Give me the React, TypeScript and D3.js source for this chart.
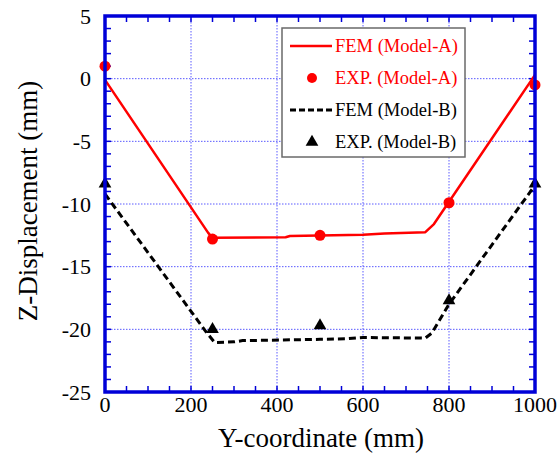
import React from 'react';
import * as d3 from 'd3';

// FEM curves (Y-coordinate mm, Z-displacement mm)
const femA_y = [0, 240, 250, 420, 430, 600, 650, 745, 765, 1000];
const femA_z = [-0.1, -12.3, -12.7, -12.65, -12.55, -12.45, -12.35, -12.25, -11.6, 0.3];

const femB_y = [0, 235, 255, 300, 320, 500, 560, 600, 745, 760, 800, 1000];
const femB_z = [-9.2, -20.2, -21.05, -21.0, -20.9, -20.8, -20.75, -20.65, -20.7, -20.3, -18.0, -8.5];

// experiments
const expA_y = [0, 250, 500, 800, 1000];
const expA_z = [1.0, -12.8, -12.5, -9.9, -0.5];

const expB_y = [0, 250, 500, 800, 1000];
const expB_z = [-8.4, -20.0, -19.7, -17.7, -8.4];

const xTicks = [0, 200, 400, 600, 800, 1000];
const yTicks = [5, 0, -5, -10, -15, -20, -25];

const legendLabels = ['FEM (Model-A)', 'EXP. (Model-A)', 'FEM (Model-B)', 'EXP. (Model-B)'];

const W = 559, H = 462;
const left = 105, right = 535, top = 16, bottom = 392;
const blue = '#0000d8';
const red = '#ff0000';
const font = '"Liberation Serif", "Times New Roman", serif';

const App = () => {
  const x = d3.scaleLinear().domain([0, 1000]).range([left, right]);
  const y = d3.scaleLinear().domain([-25, 5]).range([bottom, top]);

  const line = d3.line<[number, number]>().x(d => x(d[0])).y(d => y(d[1]));
  const lineA = line(femA_y.map((v, i) => [v, femA_z[i]]));
  const lineB = line(femB_y.map((v, i) => [v, femB_z[i]]));

  const tri = d3.symbol().type(d3.symbolTriangle).size(70)();

  const xMinor = d3.range(0, 1001, 50);
  const yMinor = d3.range(-25, 5.01, 1);

  const lgX = 282, lgY = 28, lgW = 183, lgH = 129;
  const rows = [46, 78, 110, 142];

  return (
    <svg width={W} height={H} style={{ position: 'absolute', left: 0, top: 0, background: '#fff' }}>
      {/* grid */}
      <g stroke="#5a5aff" strokeWidth={1} strokeDasharray="1.5,1.5">
        {xTicks.slice(1, -1).map(t => (
          <line key={'gx' + t} x1={x(t)} x2={x(t)} y1={top} y2={bottom} />
        ))}
        {yTicks.slice(1, -1).map(t => (
          <line key={'gy' + t} x1={left} x2={right} y1={y(t)} y2={y(t)} />
        ))}
      </g>

      {/* ticks inward on all sides */}
      <g stroke={blue} strokeWidth={1.5}>
        {xMinor.map(t => (
          <g key={'tx' + t}>
            <line x1={x(t)} x2={x(t)} y1={bottom} y2={bottom - 6} />
            <line x1={x(t)} x2={x(t)} y1={top} y2={top + 6} />
          </g>
        ))}
        {yMinor.map(t => (
          <g key={'ty' + t}>
            <line x1={left} x2={left + 6} y1={y(t)} y2={y(t)} />
            <line x1={right} x2={right - 6} y1={y(t)} y2={y(t)} />
          </g>
        ))}
      </g>

      {/* curves */}
      <path d={lineA || ''} fill="none" stroke={red} strokeWidth={2.5} strokeLinejoin="round" />
      <path d={lineB || ''} fill="none" stroke="#000" strokeWidth={3} strokeDasharray="7,4" />

      {expA_y.map((v, i) => (
        <circle key={'ea' + i} cx={x(v)} cy={y(expA_z[i])} r={5.5} fill={red} />
      ))}
      {expB_y.map((v, i) => (
        <path key={'eb' + i} d={tri || ''} transform={`translate(${x(v)},${y(expB_z[i])})`} fill="#000" />
      ))}

      {/* frame */}
      <rect x={left} y={top} width={right - left} height={bottom - top} fill="none" stroke={blue} strokeWidth={3.5} />

      {/* tick labels */}
      <g fontFamily={font} fontSize={22} fill="#000">
        {xTicks.map(t => (
          <text key={'lx' + t} x={x(t)} y={412} textAnchor="middle">{t}</text>
        ))}
        {yTicks.map(t => (
          <text key={'ly' + t} x={91} y={y(t) + 7.5} textAnchor="end">{t}</text>
        ))}
      </g>

      {/* axis titles */}
      <text x={(left + right) / 2 + 1} y={447} textAnchor="middle" fontFamily={font} fontSize={27}>Y-coordinate (mm)</text>
      <text transform="translate(37,201) rotate(-90)" textAnchor="middle" fontFamily={font} fontSize={27}>Z-Displacement (mm)</text>

      {/* legend */}
      <rect x={lgX} y={lgY} width={lgW} height={lgH} fill="#fff" stroke="#6a6a6a" strokeWidth={1.5} />
      <line x1={290} x2={332} y1={rows[0]} y2={rows[0]} stroke={red} strokeWidth={2.5} />
      <circle cx={312} cy={rows[1]} r={5} fill={red} />
      <line x1={290} x2={334} y1={rows[2]} y2={rows[2]} stroke="#000" strokeWidth={3} strokeDasharray="6,3" />
      <path d={tri || ''} transform={`translate(312,${rows[3]})`} fill="#000" />
      <g fontFamily={font} fontSize={18.5}>
        {legendLabels.map((s, i) => (
          <text key={s} x={335} y={rows[i] + 6} fill={i < 2 ? red : '#000'}>{s}</text>
        ))}
      </g>
    </svg>
  );
};

export default App;
